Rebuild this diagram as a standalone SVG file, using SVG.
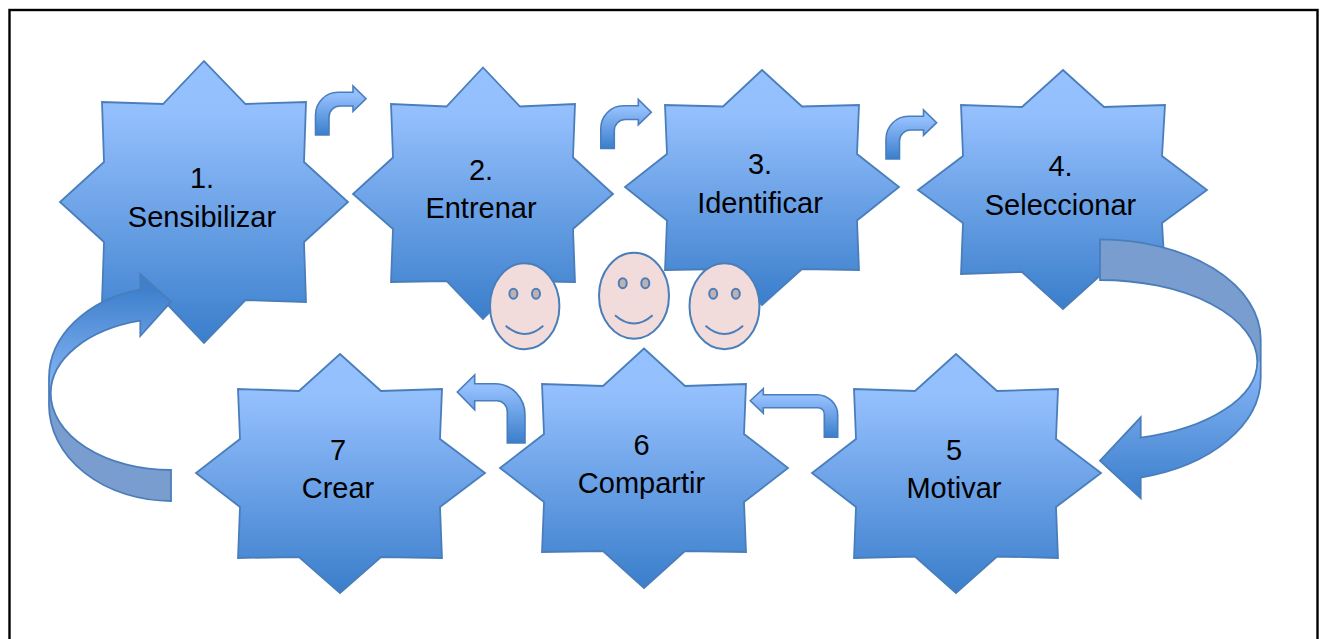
<svg xmlns="http://www.w3.org/2000/svg" width="1322" height="639" viewBox="0 0 1322 639">
<style>
.s{fill:url(#g);stroke:#4A7EBB;stroke-width:1.8;stroke-linejoin:miter}
.a{fill:url(#g);stroke:#4A7EBB;stroke-width:1.6;stroke-linejoin:miter}
.dark{fill:#7A9DD0;stroke:none}
.line{fill:none;stroke:#4A7EBB;stroke-width:1.8}
.t{font-family:"Liberation Sans",Arial,sans-serif;font-size:29px;fill:#000;text-anchor:middle}
.face{fill:#F2DCDB;stroke:#4A7EBB;stroke-width:2}
.eye{fill:#C2B0AF;stroke:#4A7EBB;stroke-width:2}
.smile{fill:none;stroke:#4A7EBB;stroke-width:2}
</style>
<defs>
<linearGradient id="g" x1="0" y1="0" x2="0" y2="1">
<stop offset="0" stop-color="#96C1FF"/><stop offset="0.18" stop-color="#94BFFD"/><stop offset="1" stop-color="#3A7ECB"/>
</linearGradient>
<linearGradient id="gr" gradientUnits="userSpaceOnUse" x1="0" y1="340" x2="0" y2="498">
<stop offset="0" stop-color="#96C1FF"/><stop offset="1" stop-color="#3A7ECB"/>
</linearGradient>
<linearGradient id="gl" gradientUnits="userSpaceOnUse" x1="0" y1="290" x2="0" y2="395">
<stop offset="0" stop-color="#3F80CD"/><stop offset="1" stop-color="#8DBAF8"/>
</linearGradient>
</defs>
<rect x="0" y="0" width="1322" height="639" fill="#fff"/>
<rect x="9.5" y="10" width="1308" height="650" fill="#fff" stroke="#000" stroke-width="2.4"/>

<g id="node1">
<polygon class="s" points="204,61 245.5,104 306,102 304,162 348,202 304,242 306,302 245.5,300 204,343 163,300 102,302 104,242 60,202 104,162 102,102 163,104"/>
<text class="t" x="202" y="188">1.</text><text class="t" x="202" y="227">Sensibilizar</text>
</g>
<g id="node2">
<polygon class="s" points="483,67.5 520,106.5 575,104 573,157.5 613,194 573,229 575,282 520,281 483,319 446.5,281 391,282 393,229 353,194 393,157.5 391,104 446.5,106.5"/>
<text class="t" x="481" y="180">2.</text><text class="t" x="481" y="217.5">Entrenar</text>
</g>
<g id="node3">
<polygon class="s" points="762,70 802,106.5 859,105 857,154 899,187 857,220.5 859,270 802,269 762,305 723,269 665,270 667,220.5 625,187 667,154 665,105 723,106.5"/>
<text class="t" x="760" y="174">3.</text><text class="t" x="760" y="212.5">Identificar</text>
</g>
<g id="node4">
<polygon class="s" points="1063,70 1104,107 1165,105 1162,156 1207,190 1162,223 1165,274 1104,272 1063,309 1022,272 961,274 963,223 918,190 963,156 961,105 1022,107"/>
<text class="t" x="1060.5" y="176">4.</text><text class="t" x="1060.5" y="215">Seleccionar</text>
</g>
<g id="node5">
<polygon class="s" points="956,354 997,391 1058,389 1056,439 1101,473 1056,507 1058,558 997,556.5 956,593 915,556.5 854,558 856,507 812,473 856,439 854,389 915,391"/>
<text class="t" x="954" y="460">5</text><text class="t" x="954" y="497.5">Motivar</text>
</g>
<g id="node6">
<polygon class="s" points="644,348.5 685,386 746,384 744,434 788,468 744,502 746,552 685,551 644,588 603,551 542,552 544,502 500,468 544,434 542,384 603,386"/>
<text class="t" x="641.5" y="455">6</text><text class="t" x="641.5" y="492.5">Compartir</text>
</g>
<g id="node7">
<polygon class="s" points="340,354 381,391 442,389 440,439 485,473 440,507 442,558 381,557 340,593 299,557 238,558 240,507 196,473 240,439 238,389 299,391"/>
<text class="t" x="338" y="460">7</text><text class="t" x="338" y="497.5">Crear</text>
</g>

<g id="connectors">
<path class="a" d="M315.5,135 V115 A22.5,22.7 0 0 1 338,92.3 H353 V86 L366,98.7 L353,111.3 V106 H340 A11,11 0 0 0 329,117 V135 Z"/>
<path class="a" d="M600.8,148.5 V128.5 A22.5,22.7 0 0 1 623.3,105.8 H638.3 V99.5 L651.3,112.2 L638.3,124.8 V119.5 H625.3 A11,11 0 0 0 614.3,130.5 V148.5 Z"/>
<path class="a" d="M886,159 V139 A22.5,22.7 0 0 1 908.5,116.3 H923.5 V110 L936.6,122.7 L923.5,135.3 V130 H910.5 A11,11 0 0 0 899.5,141 V159 Z"/>
<path class="a" d="M837.7,437.3 V415 A21,20.3 0 0 0 816.7,394.7 H763.3 V388.7 L750.3,400.7 L763.3,413.3 V407.7 H818 A6.3,6.3 0 0 1 824.3,414 V437.3 Z"/>
<path class="a" d="M525,443 V415 A30,31.3 0 0 0 495,383.7 H474.7 V375 L457.3,392 L474.7,409.7 V400.7 H497 A10.3,11 0 0 1 507.3,411.7 V443 Z"/>

<g id="curve-right">
<path class="dark" d="M1100,239.3 A160.7,100 0 0 1 1260.7,339.3 V362 L1257.3,361.7 A157.3,81.7 0 0 0 1100,280 Z"/>
<path fill="url(#gr)" d="M1257.3,361.7 L1260.7,362 V378 A160.7,103 0 0 1 1140.7,477.5 V498.3 L1100,460.7 L1140.7,417.3 V437.7 A157.3,78.7 0 0 0 1257.3,361.7 Z"/>
<path class="line" d="M1100,239.3 A160.7,100 0 0 1 1260.7,339.3 V378 A160.7,103 0 0 1 1140.7,477.5 V498.3 L1100,460.7 L1140.7,417.3 V437.7 A157.3,78.7 0 0 0 1257.3,361.7 A157.3,81.7 0 0 0 1100,280 Z"/>
</g>
<g id="curve-left">
<path class="dark" d="M171,501 A122,96 0 0 1 49,405 V393.3 L50.7,393.3 A120.3,76.7 0 0 0 171,470 Z"/>
<path fill="url(#gl)" d="M50.7,393.3 L49,393.3 V378 A122,91.6 0 0 1 140.3,289.3 V274 L171,301.7 L140.3,336 V320.7 A120.3,75 0 0 0 50.7,393.3 Z"/>
<path class="line" d="M171,501 A122,96 0 0 1 49,405 V378 A122,91.6 0 0 1 140.3,289.3 V274 L171,301.7 L140.3,336 V320.7 A120.3,75 0 0 0 50.7,393.3 A120.3,76.7 0 0 0 171,470 Z"/>
</g>
</g>

<g id="face1" transform="translate(524.7 306.3)">
<ellipse class="face" rx="34.7" ry="43"/><ellipse class="eye" cx="-11.3" cy="-12.6" rx="4" ry="5"/><ellipse class="eye" cx="11.3" cy="-12.6" rx="4" ry="5"/>
<path class="smile" d="M-19,19.4 Q0,36 18.6,19.4"/>
</g>
<g id="face2" transform="translate(634 295.8)">
<ellipse class="face" rx="35" ry="43"/><ellipse class="eye" cx="-11.3" cy="-12.6" rx="4" ry="5"/><ellipse class="eye" cx="11.3" cy="-12.6" rx="4" ry="5"/>
<path class="smile" d="M-19,19.4 Q0,36 18.6,19.4"/>
</g>
<g id="face3" transform="translate(724.5 306.3)">
<ellipse class="face" rx="35" ry="43"/><ellipse class="eye" cx="-11.3" cy="-12.6" rx="4" ry="5"/><ellipse class="eye" cx="11.3" cy="-12.6" rx="4" ry="5"/>
<path class="smile" d="M-19,19.4 Q0,36 18.6,19.4"/>
</g>
</svg>
